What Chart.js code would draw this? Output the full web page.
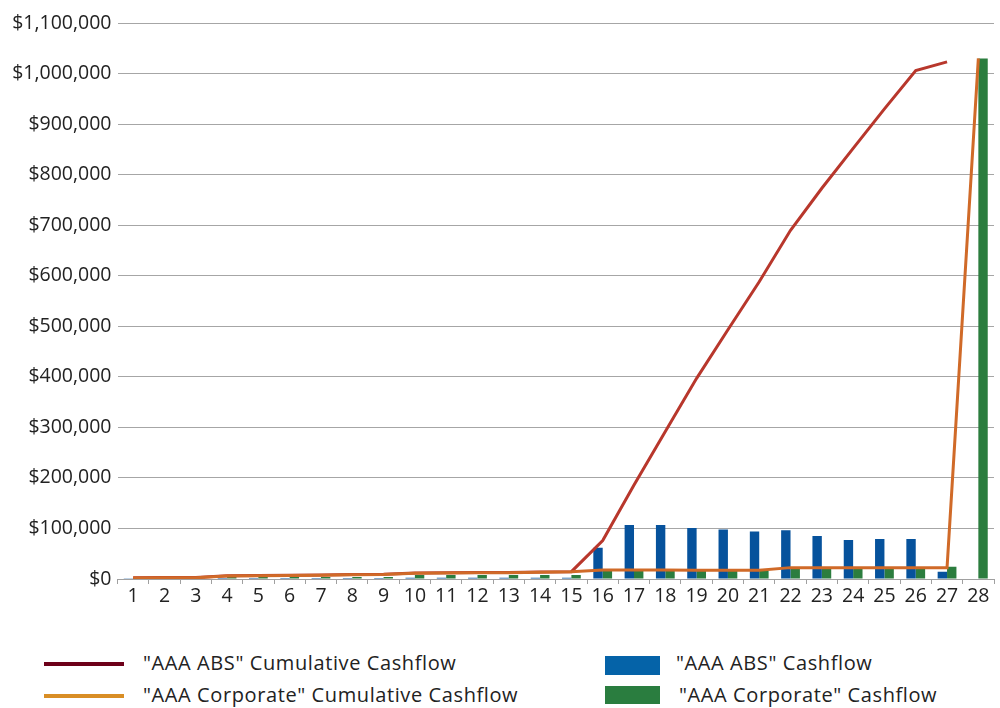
<!DOCTYPE html>
<html>
<head>
<meta charset="utf-8">
<script src="https://cdn.jsdelivr.net/npm/chart.js@4/dist/chart.umd.min.js"></script>
<style>
  html, body { margin: 0; padding: 0; background: #ffffff; }
  #wrap { position: relative; width: 1000px; height: 708px; background: #fff; font-family: "Open Sans", Lato, sans-serif; }
  #chartBox { position: absolute; left: 0; top: 0; width: 1000px; height: 630px; }
  .lg { position: absolute; font-size: 20px; letter-spacing: 0.6px; color: #222; white-space: nowrap; line-height: 22px; }
  .sw { position: absolute; }
</style>
</head>
<body>
<div id="wrap">
  <div id="chartBox"><canvas id="c"></canvas></div>
  <div class="sw" style="left:44px; top:662px; width:80px; height:4px; background:#6d0019;"></div>
  <div class="lg" style="left:143px; top:652px;">"AAA ABS" Cumulative Cashflow</div>
  <div class="sw" style="left:44px; top:694px; width:80px; height:4px; background:#d98e25;"></div>
  <div class="lg" style="left:143px; top:684px;">"AAA Corporate" Cumulative Cashflow</div>
  <div class="sw" style="left:605px; top:656px; width:55px; height:19px; background:#0563a8;"></div>
  <div class="lg" style="left:676px; top:652px;">"AAA ABS" Cashflow</div>
  <div class="sw" style="left:605px; top:686px; width:55px; height:18px; background:#2a7d3f;"></div>
  <div class="lg" style="left:679px; top:684px;">"AAA Corporate" Cashflow</div>
</div>
<script>
const categories = ["1","2","3","4","5","6","7","8","9","10","11","12","13","14","15","16","17","18","19","20","21","22","23","24","25","26","27","28"];

const absCashflow = [1500,1500,1500,2000,2000,2000,2000,2000,2000,2500,2500,2500,2500,2500,2500,62000,107000,107000,101000,98000,94000,96500,85000,77000,79000,79000,14500,0];

const corpCashflow = [500,500,500,4000,4000,4000,4000,4000,4000,8000,8000,8000,8000,8000,8000,16000,16000,16000,16000,16000,16000,20000,20000,20000,20000,20000,24000,1030000];

const absCumulative = [2500,3000,3000,6500,7000,7500,8000,9000,9500,12000,12500,13000,13000,14000,14500,76000,186000,292000,397000,493000,588000,690000,773000,852000,930000,1006000,1023000,null];

const corpCumulative = [2000,2500,2500,6000,6500,7000,7500,8500,9000,11500,12000,12500,12500,13500,14500,18000,18000,18000,17500,17500,17500,22500,22500,22500,22500,22500,22500,1030000];

const yMin = 0, yMax = 1100000, yStep = 100000;

const ctx = document.getElementById('c');
new Chart(ctx, {
  data: {
    labels: categories,
    datasets: [
      { type: 'line', label: '"AAA ABS" Cumulative Cashflow', data: absCumulative, borderColor: '#b8372c', borderWidth: 3, pointRadius: 0, fill: false, tension: 0, order: 1, spanGaps: false },
      { type: 'line', label: '"AAA Corporate" Cumulative Cashflow', data: corpCumulative, borderColor: '#d06a28', borderWidth: 3, pointRadius: 0, fill: false, tension: 0, order: 0 },
      { type: 'bar', label: '"AAA ABS" Cashflow', data: absCashflow, backgroundColor: '#06529c', categoryPercentage: 0.6, barPercentage: 1.0, order: 2 },
      { type: 'bar', label: '"AAA Corporate" Cashflow', data: corpCashflow, backgroundColor: '#2b7d3e', categoryPercentage: 0.6, barPercentage: 1.0, order: 3 }
    ]
  },
  options: {
    responsive: true,
    maintainAspectRatio: false,
    animation: false,
    layout: { padding: { left: 0, right: 6, top: 23, bottom: 0 } },
    plugins: { legend: { display: false }, tooltip: { enabled: false } },
    scales: {
      x: {
        grid: { display: true, drawOnChartArea: false, drawTicks: true, tickLength: 5, color: '#a0a0a0', offset: true },
        border: { display: true, color: '#a0a0a0', width: 1 },
        ticks: { color: '#222', font: { family: 'Open Sans', size: 19.5 }, padding: 1, maxRotation: 0, autoSkip: false },
        afterFit: (s) => { s.height = 51; }
      },
      y: {
        min: yMin, max: yMax,
        grid: { color: '#a6a6a6', lineWidth: 1, drawTicks: false },
        border: { display: false },
        ticks: {
          stepSize: yStep, color: '#222', font: { family: 'Open Sans', size: 19.5 }, padding: 6,
          callback: (v) => '$' + Number(v).toLocaleString('en-US')
        },
        afterFit: (s) => { s.width = 117.5; }
      }
    }
  }
});
</script>
</body>
</html>
